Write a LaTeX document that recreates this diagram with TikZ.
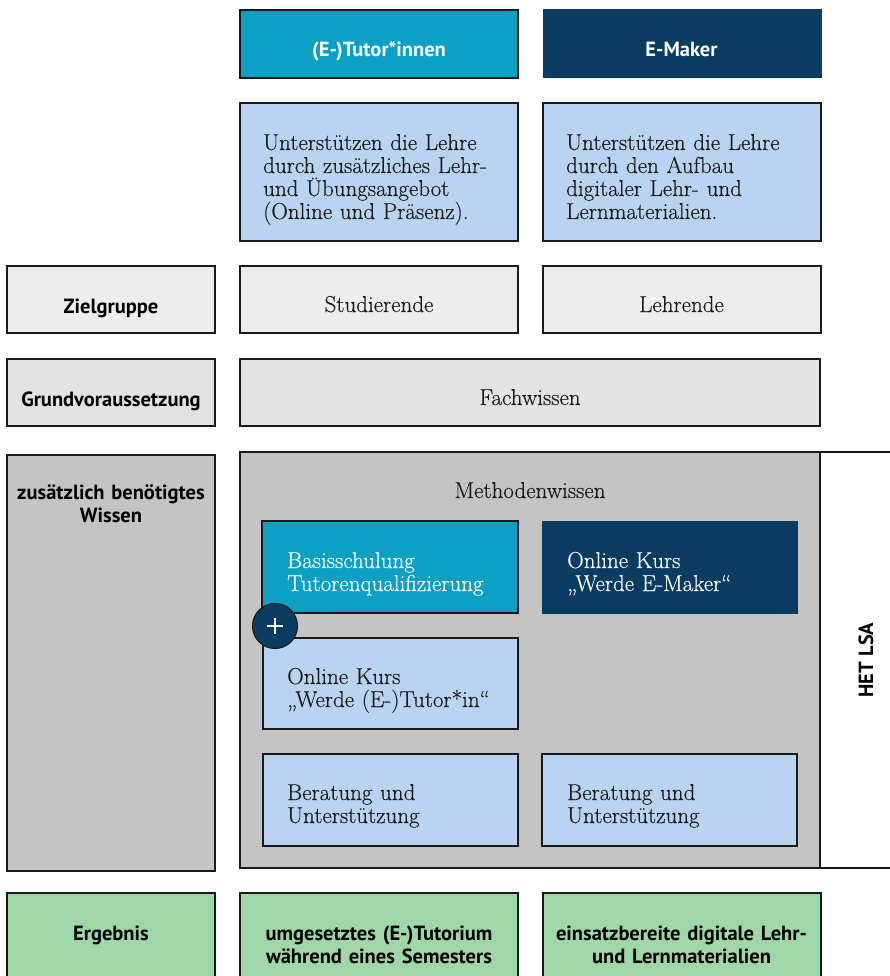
\documentclass[tikz,border=0pt]{standalone}
\usepackage{fontspec}
\newfontfamily\lab{PT Sans}
\newfontfamily\serf{Latin Modern Roman}[FakeBold=0.3]
\definecolor{teal1}{HTML}{0BA0C4}
\definecolor{navy1}{HTML}{0A3C62}
\definecolor{lblue}{HTML}{B8D4F0}
\definecolor{grey1}{HTML}{EDEDED}
\definecolor{grey2}{HTML}{E3E3E3}
\definecolor{grey3}{HTML}{C4C4C4}
\definecolor{green1}{HTML}{9FD7A9}
\definecolor{edge}{HTML}{1A1A1A}
\tikzset{
  bx/.style={draw=edge, line width=1.1pt, anchor=north west, inner sep=0pt, outer sep=0pt},
  lbl/.style={font=\lab\bfseries\fontsize{20.5}{23}\selectfont, align=center, text=black, inner sep=0pt, anchor=base},
  lblm/.style={lbl, text width=#1},
  ser/.style={font=\serf\fontsize{23}{23}\selectfont, inner sep=0pt, text=edge, anchor=base},
  serl/.style={ser, text width=250pt, align=left, anchor=base west},
  wide/.style={minimum width=278pt},
  side/.style={minimum width=208pt}
}
\begin{document}
\begin{tikzpicture}[x=1pt,y=-1pt]
\useasboundingbox (0,0) rectangle (890,976);
\fill[white] (0,0) rectangle (890,976);

% headers
\node[bx, wide, fill=teal1, minimum height=68pt] (h1) at (240,10) {};
\node[bx, wide, fill=navy1, draw=navy1, line width=0pt, minimum height=68pt] (h2) at (543,10) {};
\node[lbl, text=white] (h1t) at (379,56.5) {(E-)Tutor*innen};
\node[lbl, text=white] (h2t) at (681.5,56.5) {E-Maker};

% descriptions
\node[bx, wide, fill=lblue, minimum height=138pt] (d1) at (240,103) {};
\node[bx, wide, fill=lblue, minimum height=138pt] (d2) at (543,103) {};
\node[serl] (d1t) at (263,150) {Unterstützen die Lehre\\durch zusätzliches Lehr-\\und Übungsangebot\\(Online und Präsenz).};
\node[serl] (d2t) at (566,150) {Unterstützen die Lehre\\durch den Aufbau\\digitaler Lehr- und\\Lernmaterialien.};

% Zielgruppe row
\node[bx, side, fill=grey1, minimum height=67pt] (z0) at (7,266) {};
\node[bx, wide, fill=grey1, minimum height=67pt] (z1) at (240,266) {};
\node[bx, wide, fill=grey1, minimum height=67pt] (z2) at (543,266) {};
\node[lbl] (z0t) at (111,313) {Zielgruppe};
\node[ser] (z1t) at (379,312) {Studierende};
\node[ser] (z2t) at (681.5,312) {Lehrende};

% Grundvoraussetzung row
\node[bx, side, fill=grey2, minimum height=67pt] (g0) at (7,359) {};
\node[bx, fill=grey2, minimum width=580pt, minimum height=67pt] (g1) at (240,359) {};
\node[lbl] (g0t) at (111,406) {Grundvoraussetzung};
\node[ser] (g1t) at (530,405) {Fachwissen};

% zusaetzlich
\node[bx, side, fill=grey3, minimum height=416pt] (w0) at (7,455) {};
\node[lblm=200pt] (w0t) at (111,499) {zusätzlich benötigtes\\Wissen};

\node[bx, fill=grey3, minimum width=580pt, minimum height=416pt] (m) at (240,452) {};
\node[ser] (mt) at (530,498) {Methodenwissen};

\node[bx, fill=teal1, minimum width=256pt, minimum height=92pt] (b1) at (262,521) {};
\node[serl, text=white] (b1t) at (287,568) {Basisschulung\\Tutorenqualifizierung};
\node[bx, fill=navy1, draw=navy1, line width=0pt, minimum width=255pt, minimum height=92pt] (b2) at (542,521) {};
\node[serl, text=white] (b2t) at (567,568) {Online Kurs\\„Werde E-Maker“};

\node[bx, fill=lblue, minimum width=255pt, minimum height=91pt] (o1) at (263,638) {};
\node[serl] (o1t) at (287,684) {Online Kurs\\„Werde (E-)Tutor*in“};

\node[bx, fill=lblue, minimum width=255pt, minimum height=92pt] (r1) at (263,754) {};
\node[serl] (r1t) at (287,800) {Beratung und\\Unterstützung};
\node[bx, fill=lblue, minimum width=255pt, minimum height=92pt] (r2) at (542,754) {};
\node[serl] (r2t) at (567,800) {Beratung und\\Unterstützung};

% plus
\node[circle, draw=edge, fill=navy1, line width=1.1pt, minimum size=45pt, inner sep=0pt] (plus) at (275,626) {};
\draw[white, line width=1.3pt] ([xshift=-8pt]plus.center) -- ([xshift=8pt]plus.center);
\draw[white, line width=1.3pt] ([yshift=-8pt]plus.center) -- ([yshift=8pt]plus.center);

% HET LSA
\coordinate (hetA) at (892,452);
\coordinate (hetB) at (892,868);
\draw[edge, line width=1.1pt] (m.north east) -- (hetA);
\draw[edge, line width=1.1pt] (m.south east) -- (hetB);
\node[lbl, rotate=90, anchor=center] (het) at (866,660) {HET LSA};

% Ergebnis row
\node[bx, side, fill=green1, minimum height=90pt] (e0) at (7,893) {};
\node[bx, wide, fill=green1, minimum height=90pt] (e1) at (240,893) {};
\node[bx, wide, fill=green1, minimum height=90pt] (e2) at (543,893) {};
\node[lbl] (e0t) at (111,940) {Ergebnis};
\node[lblm=270pt] (e1t) at (379,940) {umgesetztes (E-)Tutorium\\während eines Semesters};
\node[lblm=270pt] (e2t) at (681.5,940) {einsatzbereite digitale Lehr-\\und Lernmaterialien};
\end{tikzpicture}
\end{document}
